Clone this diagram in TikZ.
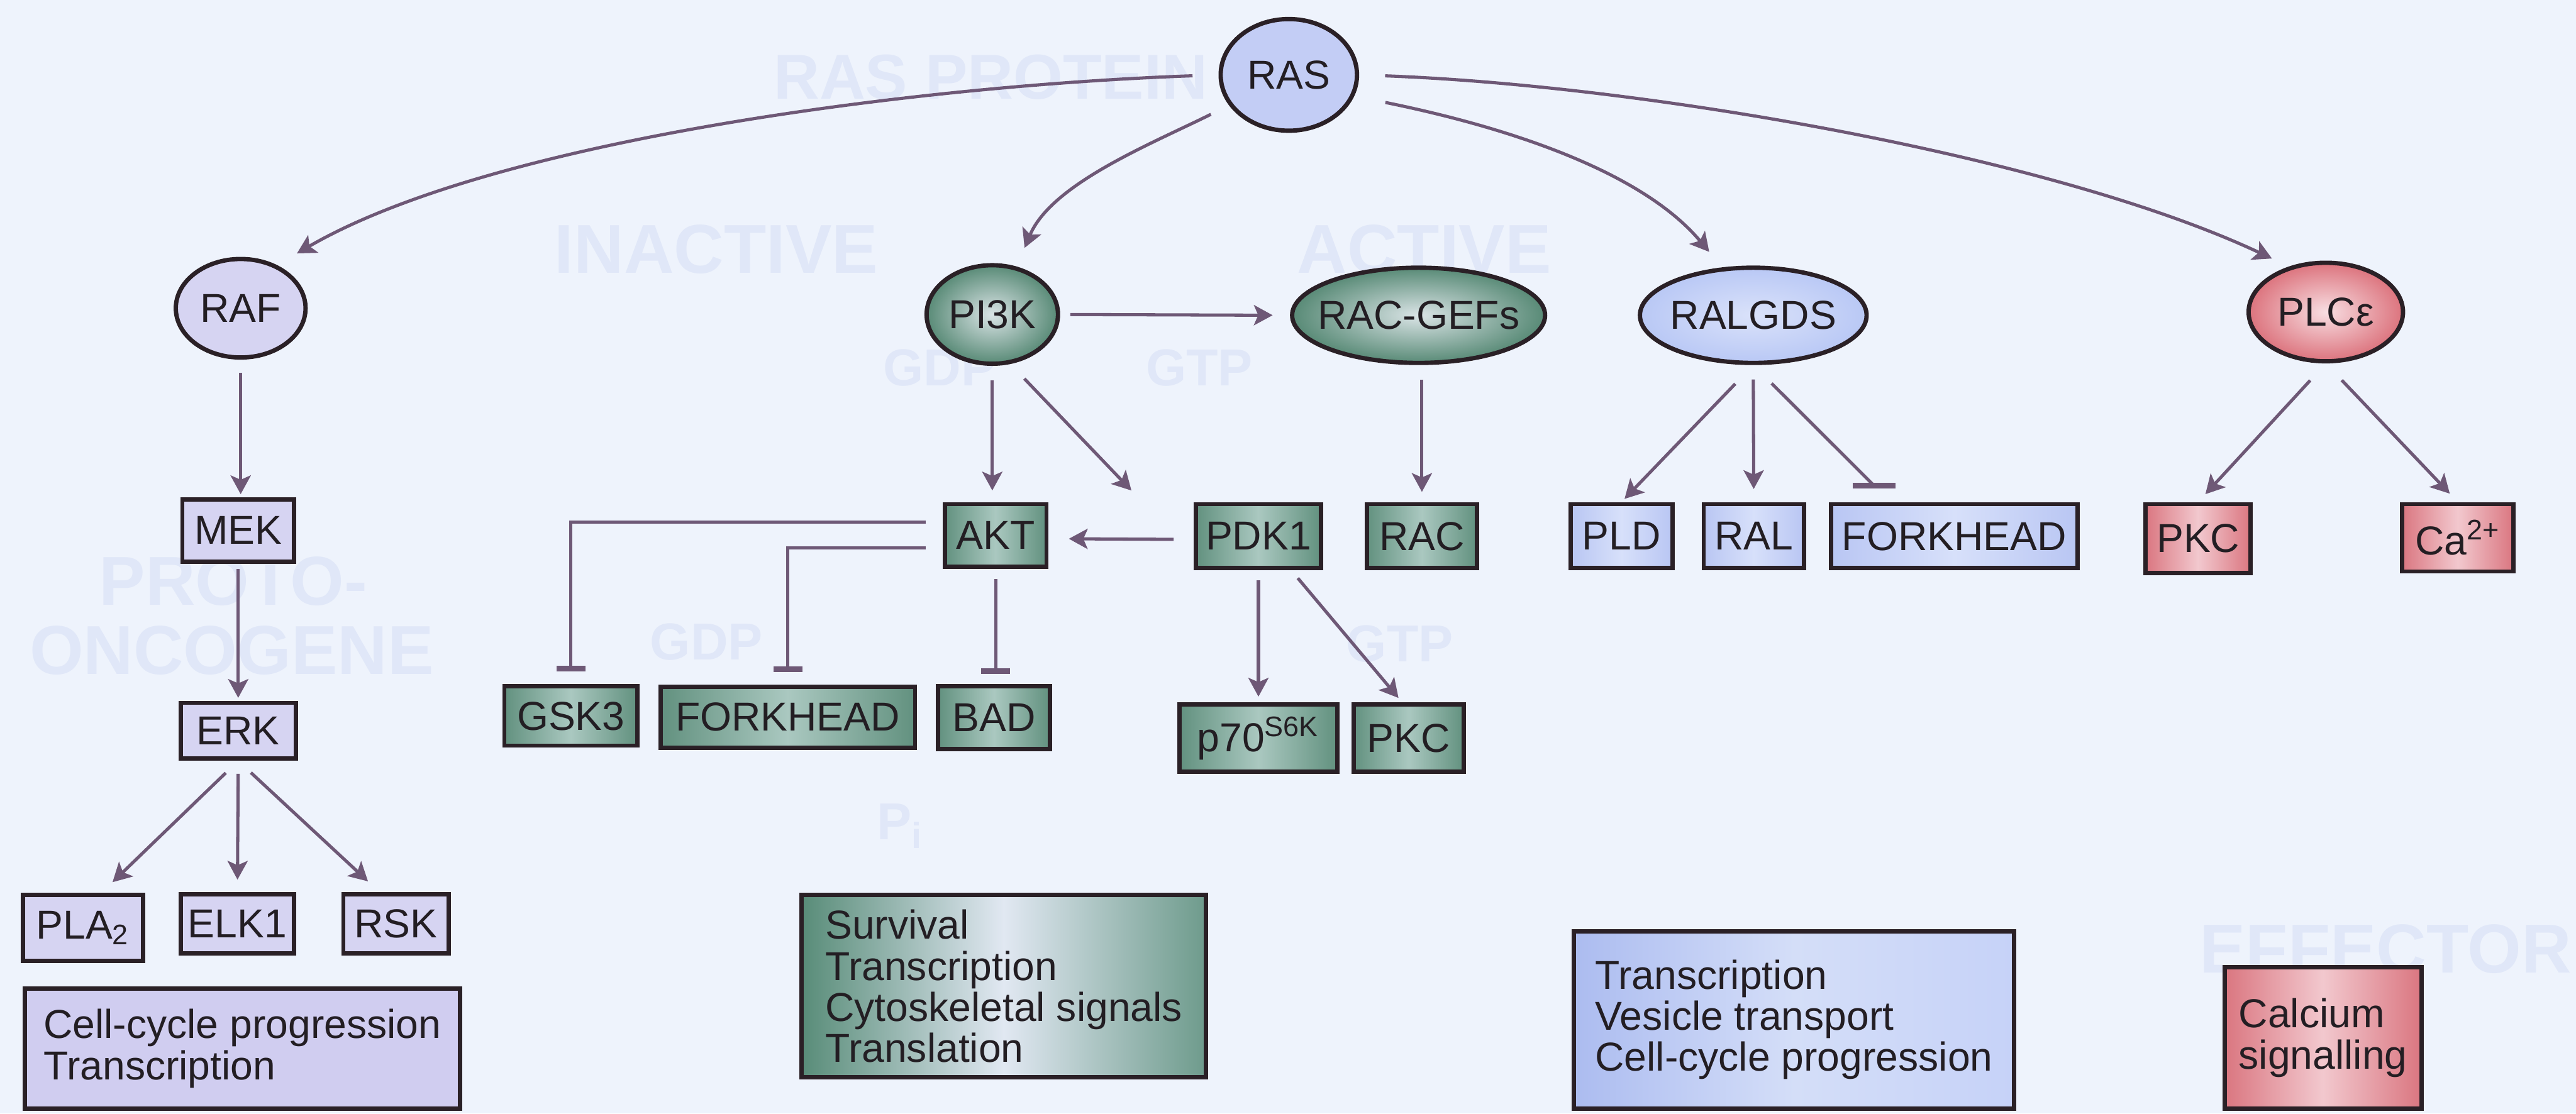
\documentclass[tikz,border=0pt]{standalone}
\usepackage{fontspec}
\setmainfont{Liberation Sans}
\usetikzlibrary{arrows.meta,shapes.geometric,calc}
\definecolor{bgC}{RGB}{238,243,252}
\definecolor{faintC}{RGB}{224,231,248}
\definecolor{dkC}{RGB}{42,32,38}
\definecolor{txtC}{RGB}{35,30,35}
\definecolor{arrC}{RGB}{110,88,118}
\definecolor{lavC}{RGB}{214,212,242}
\definecolor{lavC2}{RGB}{208,205,240}
\definecolor{rasC}{RGB}{195,205,245}
\definecolor{gD}{RGB}{88,138,118}
\definecolor{gL}{RGB}{218,228,230}
\definecolor{gbD}{RGB}{98,145,127}
\definecolor{gbL}{RGB}{170,200,192}
\definecolor{svD}{RGB}{88,140,120}
\definecolor{svL}{RGB}{225,232,242}
\definecolor{svR}{RGB}{110,155,140}
\definecolor{bD}{RGB}{185,200,245}
\definecolor{bL}{RGB}{218,226,250}
\definecolor{bbD}{RGB}{185,198,243}
\definecolor{bbL}{RGB}{215,224,250}
\definecolor{tbL}{RGB}{172,188,240}
\definecolor{tbM}{RGB}{212,222,248}
\definecolor{tbR}{RGB}{198,210,248}
\definecolor{pD}{RGB}{220,115,125}
\definecolor{pL}{RGB}{248,222,226}
\definecolor{pbD}{RGB}{218,118,128}
\definecolor{pbL}{RGB}{242,200,206}
\tikzset{
  lbl/.style={font=\fontsize{14pt}{14.2pt}\selectfont, text=txtC},
  ell/.style={ellipse, draw=dkC, line width=1.5pt, inner sep=0pt, lbl},
  bx/.style={rectangle, draw=dkC, line width=1.5pt, inner sep=0pt, lbl},
  lbox/.style={bx, fill=lavC},
  gbox/.style={bx, left color=gbD, right color=gbD, middle color=gbL},
  bbox/.style={bx, left color=bbD, right color=bbD, middle color=bbL},
  pbox/.style={bx, left color=pbD, right color=pbD, middle color=pbL},
  arr/.style={draw=arrC, line width=1.1pt, -{Stealth[length=6.5pt,width=7pt,inset=1.5pt]}},
  inh/.style={draw=arrC, line width=1.1pt, -{Bar[width=10pt,line width=2pt]}},
  conn/.style={draw=arrC, line width=1.1pt},
  barline/.style={draw=arrC, line width=2pt},
  faint/.style={font=\bfseries\fontsize{24pt}{24pt}\selectfont, text=faintC, inner sep=0pt},
  faintS/.style={font=\bfseries\fontsize{18pt}{18pt}\selectfont, text=faintC, inner sep=0pt}
}
\begin{document}
\begin{tikzpicture}[x=0.02cm,y=-0.02cm]
\path[use as bounding box] (0,0) rectangle (1568,678);
\fill[bgC] (0,0) rectangle (1568,678);

% faint background lettering
\node[faint, font=\bfseries\fontsize{22pt}{22pt}\selectfont] (fRAS) at (603,47) {RAS PROTEIN};
\node[faint] (fINA) at (436,152) {INACTIVE};
\node[faint] (fACT) at (867,152) {ACTIVE};
\node[faintS] (fGDPa) at (572,224) {GDP};
\node[faintS] (fGTPa) at (730,224) {GTP};
\node[faint] (fPRO) at (142,354) {PROTO-};
\node[faint] (fONC) at (141,396) {ONCOGENE};
\node[faintS] (fGDPb) at (430,391) {GDP};
\node[faintS] (fGTPb) at (852,392) {GTP};
\node[faintS] (fPi) at (548,503) {P\textsubscript{i}};
\node[faint] (fEFF) at (1452,578) {EFFECTOR};

% ellipses
\node[ell, fill=rasC, minimum width=1.66cm, minimum height=1.36cm] (RAS) at (784.5,45.6) {\makebox[0pt]{RAS}};
\node[ell, fill=lavC, minimum width=1.58cm, minimum height=1.20cm] (RAF) at (146.5,187.7) {\makebox[0pt]{RAF}};
\node[ell, inner color=gL, outer color=gD, minimum width=1.60cm, minimum height=1.20cm] (PI3K) at (604,191.5) {\makebox[0pt]{PI3K}};
\node[ell, inner color=gL, outer color=gD, minimum width=3.08cm, minimum height=1.16cm] (RACGEFs) at (863.5,192) {\makebox[0pt]{RAC-GEFs}};
\node[ell, inner color=bL, outer color=bD, minimum width=2.76cm, minimum height=1.16cm] (RALGDS) at (1067.2,192) {\makebox[0pt]{RALGDS}};
\node[ell, inner color=pL, outer color=pD, minimum width=1.88cm, minimum height=1.20cm] (PLCe) at (1415.7,190) {\makebox[0pt]{PLCε}};

% RAF branch
\node[lbox, minimum width=1.36cm, minimum height=0.76cm] (MEK) at (145,323) {MEK};
\node[lbox, minimum width=1.40cm, minimum height=0.68cm] (ERK) at (145,445) {ERK};
\node[lbox, minimum width=1.46cm, minimum height=0.80cm] (PLA2) at (50.5,565) {PLA\textsubscript{2}};
\node[lbox, minimum width=1.38cm, minimum height=0.72cm] (ELK1) at (144.5,562.5) {ELK1};
\node[lbox, minimum width=1.28cm, minimum height=0.72cm] (RSK) at (241,562.5) {RSK};
\node[bx, fill=lavC2, minimum width=5.30cm, minimum height=1.46cm, align=left] (CellCyc) at (147.5,638.5) {Cell-cycle progression\\Transcription};

% PI3K branch
\node[gbox, minimum width=1.24cm, minimum height=0.76cm] (AKT) at (606,326) {AKT};
\node[gbox, minimum width=1.52cm, minimum height=0.78cm] (PDK1) at (766,326.5) {PDK1};
\node[gbox, minimum width=1.34cm, minimum height=0.78cm] (RAC) at (865.5,326.5) {RAC};
\node[gbox, minimum width=1.62cm, minimum height=0.72cm] (GSK3) at (347.5,436) {GSK3};
\node[gbox, minimum width=3.10cm, minimum height=0.74cm] (FORKg) at (479.5,436.7) {FORKHEAD};
\node[gbox, minimum width=1.36cm, minimum height=0.76cm] (BAD) at (605,437) {BAD};
\node[gbox, minimum width=1.92cm, minimum height=0.82cm] (p70) at (766,449.5) {p70\textsuperscript{S6K}};
\node[gbox, minimum width=1.34cm, minimum height=0.82cm] (PKCg) at (857.5,449.5) {PKC};
\node[bx, left color=svD, right color=svR, middle color=svL, minimum width=4.92cm, minimum height=2.22cm, align=left] (Surv) at (611,600.5) {Survival\\Transcription\\Cytoskeletal signals\\Translation};

% RALGDS branch
\node[bbox, minimum width=1.24cm, minimum height=0.78cm] (PLD) at (987,326.5) {PLD};
\node[bbox, minimum width=1.22cm, minimum height=0.78cm] (RAL) at (1067.5,326.5) {RAL};
\node[bbox, minimum width=3.00cm, minimum height=0.78cm] (FORKb) at (1189.5,326.5) {FORKHEAD};
\node[bx, left color=tbL, right color=tbR, middle color=tbM, minimum width=5.36cm, minimum height=2.16cm, align=left] (Transc) at (1092,621) {Transcription\\Vesicle transport\\Cell-cycle progression};

% PLCe branch
\node[pbox, minimum width=1.28cm, minimum height=0.84cm] (PKCr) at (1338,328) {PKC};
\node[pbox, minimum width=1.36cm, minimum height=0.82cm] (Ca) at (1496,327.5) {Ca\textsuperscript{2+}};
\node[pbox, minimum width=2.40cm, minimum height=1.72cm, align=left] (Calc) at (1414,632) {Calcium\\signalling};

% connectors from RAS
\draw[arr, shorten <=9pt, shorten >=8pt] (RAS.west) .. controls (560,52) and (300,85) .. (RAF.50);
\draw[arr, shorten <=7pt, shorten >=7pt] (RAS.-153) .. controls (700,88) and (640,112) .. (PI3K.63);
\draw[arr, shorten <=11pt, shorten >=7pt] (RAS.-18) .. controls (920,78) and (1000,105) .. (RALGDS.123);
\draw[arr, shorten <=9pt, shorten >=6.5pt] (RAS.east) .. controls (1000,52) and (1250,95) .. (PLCe.129);

% RAF branch connectors
\draw[arr, shorten <=4.5pt, shorten >=1pt] (RAF.south) -- (RAF.south |- MEK.north);
\draw[arr, shorten <=1.8pt, shorten >=1pt] (MEK.south) -- (ERK.north);
\draw[arr, shorten <=6pt] (ERK.south) -- ($(PLA2.north)+(18,-6.5)$);
\draw[arr, shorten <=4.5pt, shorten >=4.3pt] (ERK.south) -- (ELK1.north);
\draw[arr, shorten <=6pt] (ERK.south) -- ($(RSK.north)+(-17,-6.5)$);

% PI3K branch connectors
\draw[arr, shorten <=5pt, shorten >=4pt] (PI3K.south) -- (PI3K.south |- AKT.north);
\draw[arr, shorten <=7pt] (PI3K.-70) -- ($(PDK1.north west)+(-38,-7)$);
\draw[arr, shorten <=3.5pt, shorten >=6pt] (PI3K.east) -- (RACGEFs.west);
\draw[arr, shorten <=5pt, shorten >=3.5pt] (RACGEFs.south -| RAC.north) -- (RAC.north);
\draw[arr, shorten <=7pt, shorten >=7pt] ($(PDK1.west)+(0,2)$) -- ($(AKT.east)+(0,2)$);
\draw[arr, shorten <=3.5pt, shorten >=2pt] (PDK1.south) -- (p70.north);
\draw[arr, shorten <=3.5pt, shorten >=2pt] ($(PDK1.south)+(20,0)$) -- ($(PKCg.north)+(-4,0)$);
\draw[inh, shorten <=5.7pt, shorten >=4.5pt] ($(AKT.west)+(0,-8)$) -| (GSK3.north);
\draw[inh, shorten <=5.7pt, shorten >=4.3pt] ($(AKT.west)+(0,7.5)$) -| (FORKg.north);
\draw[inh, shorten <=3.5pt, shorten >=3.5pt] (AKT.south) -- (AKT.south |- BAD.north);

% RALGDS branch connectors
\coordinate (fbk) at ($(FORKb.north west)+(27.5,-10)$);
\draw[arr, shorten <=9pt, shorten >=1.5pt] (RALGDS.south) -- (PLD.north);
\draw[arr, shorten <=5pt, shorten >=4.5pt] (RALGDS.south) -- (RAL.north);
\draw[conn, shorten <=9pt] (RALGDS.south) -- (fbk);
\draw[barline] ($(fbk)+(-13,0)$) -- ($(fbk)+(13,0)$);

% PLCe branch connectors
\draw[arr, shorten <=8pt, shorten >=3.7pt] (PLCe.south) -- (PKCr.north);
\draw[arr, shorten <=8pt, shorten >=4pt] (PLCe.south) -- (Ca.north);
\end{tikzpicture}
\end{document}
